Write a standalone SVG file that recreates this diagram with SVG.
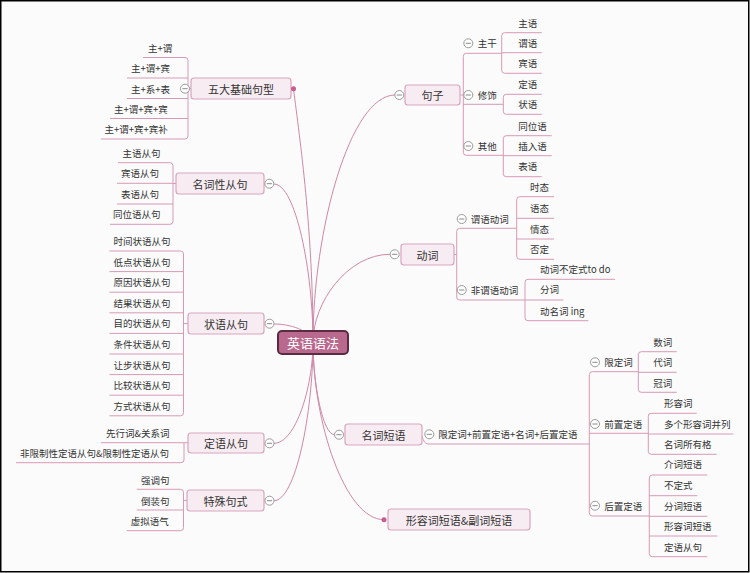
<svg xmlns="http://www.w3.org/2000/svg" xmlns:xlink="http://www.w3.org/1999/xlink" width="750" height="573" viewBox="0 0 750 573">
<style>
text{font-family:"Noto Sans CJK SC","Noto Sans",sans-serif;fill:#333;dominant-baseline:central}
.t{font-size:9.5px}
.m{font-size:11px;text-anchor:middle}
.r{font-size:13px;text-anchor:middle;fill:#fff}
.ln{fill:none;stroke:#d79ab6;stroke-width:1}
.cv{fill:none;stroke:#cf88a8;stroke-width:1}
.nd{fill:#f7ecf2;stroke:#d9a5be;stroke-width:1.2}
.dot{fill:#c65d8c}
.col circle{fill:#fff;stroke:#9a9a9a;stroke-width:1}
.col line{stroke:#8a8a8a;stroke-width:1}
</style>
<defs>
<g id="col" class="col"><circle r="4.5"/><line x1="-2.6" y1="0" x2="2.6" y2="0"/></g>
</defs>
<rect x="0.75" y="0.75" width="748" height="571" fill="#fbfbfb" stroke="#000" stroke-width="1.5"/>

<g id="connectors">
<path class="cv" d="M313,342 C313,230 300,140 293.5,89"/>
<path class="cv" d="M313,342 C313,271 295.5,184 274,184"/>
<path class="cv" d="M313,342 C313,334 295.5,324 274,324"/>
<path class="cv" d="M313,342 C313,387.5 295.5,443.3 274,443.3"/>
<path class="cv" d="M313,342 C313,413.4 295.5,500.7 274,500.7"/>
<path class="cv" d="M313,342 C313,231 350,95 395,95"/>
<path class="cv" d="M313,342 C313,302.3 347.7,254.3 390,254.3"/>
<path class="cv" d="M313,342 C313,383.5 322.7,434.7 334.5,434.7"/>
<path class="cv" d="M313,342 C313,422 345,519.7 384,519.7"/>

<path class="ln" d="M191,88.5 H188 M188,60.5 V136 M188,60.5 Q188,57.5 185,57.5 H143 M188,78 H127 M188,98.5 H127 M188,118.5 H110 M188,136 Q188,139 185,139 H101"/>
<path class="ln" d="M176,183.5 H173 M173,165.7 V221.3 M173,165.7 Q173,162.7 170,162.7 H118 M173,183.3 H117 M173,204 H117 M173,221.3 Q173,224.3 170,224.3 H110"/>
<path class="ln" d="M188,323.5 H183.5 M183.5,254 V412.8 M183.5,254 Q183.5,251 180.5,251 H109.5 M183.5,271.6 H109.5 M183.5,292.2 H109.5 M183.5,312.8 H109.5 M183.5,333.4 H109.5 M183.5,354 H109.5 M183.5,374.6 H109.5 M183.5,395.2 H109.5 M183.5,412.8 Q183.5,415.8 180.5,415.8 H109.5"/>
<path class="ln" d="M188,442.7 H101 M184,442.7 V459.7 Q184,462.7 181,462.7 H16"/>
<path class="ln" d="M187,500.5 H183.5 M183.5,492.3 V527.7 M183.5,492.3 Q183.5,489.3 180.5,489.3 H136.7 M183.5,510 H136.7 M183.5,527.7 Q183.5,530.7 180.5,530.7 H126.7"/>

<path class="ln" d="M460.3,95 H463.3 M463.3,56.3 V152.3 M463.3,56.3 Q463.3,53.3 466.3,53.3 H501.7 M463.3,104.3 H503.3 M463.3,152.3 Q463.3,155.3 466.3,155.3 H503.3"/>
<path class="ln" d="M501.7,35.7 V70.3 M501.7,35.7 Q501.7,32.7 504.7,32.7 H541.7 M501.7,52.7 H541.7 M501.7,70.3 Q501.7,73.3 504.7,73.3 H541.7"/>
<path class="ln" d="M503.3,97.3 V111.3 M503.3,97.3 Q503.3,94.3 506.3,94.3 H541.7 M503.3,111.3 Q503.3,114.3 506.3,114.3 H541.7"/>
<path class="ln" d="M503.3,138.7 V173.7 M503.3,138.7 Q503.3,135.7 506.3,135.7 H551.7 M503.3,155.7 H551.7 M503.3,173.7 Q503.3,176.7 506.3,176.7 H541.7"/>

<path class="ln" d="M454,254.5 H456.7 M456.7,231.3 V297 M456.7,231.3 Q456.7,228.3 459.7,228.3 H516.7 M456.7,297 Q456.7,300 459.7,300 H525"/>
<path class="ln" d="M516.7,199.7 V256.3 M516.7,199.7 Q516.7,196.7 519.7,196.7 H554 M516.7,218.3 H554 M516.7,239 H554 M516.7,256.3 Q516.7,259.3 519.7,259.3 H554"/>
<path class="ln" d="M525,282.3 V317.7 M525,282.3 Q525,279.3 528,279.3 H615 M525,300 H563.3 M525,317.7 Q525,320.7 528,320.7 H588.3"/>

<path class="ln" d="M422,436 Q424,444 428,444 H589.3"/>
<path class="ln" d="M589.3,374.7 V513 M589.3,374.7 Q589.3,371.7 592.3,371.7 H638.3 M589.3,433.3 H648.3 M589.3,513 Q589.3,516 592.3,516 H649.3"/>
<path class="ln" d="M638.3,354.7 V389.3 M638.3,354.7 Q638.3,351.7 641.3,351.7 H676.7 M638.3,372.3 H676.7 M638.3,389.3 Q638.3,392.3 641.3,392.3 H676.7"/>
<path class="ln" d="M648.3,416.3 V451.3 M648.3,416.3 Q648.3,413.3 651.3,413.3 H696.7 M648.3,434 H733.3 M648.3,451.3 Q648.3,454.3 651.3,454.3 H716.7"/>
<path class="ln" d="M649.3,478 V553.7 M649.3,478 Q649.3,475 652.3,475 H707.3 M649.3,495.7 H697.3 M649.3,516.3 H707.3 M649.3,536 H717.3 M649.3,553.7 Q649.3,556.7 652.3,556.7 H707.3"/>
</g>

<g id="root">
<rect x="278" y="331" width="70" height="23" rx="4" fill="#b9698e" stroke="#5b2b40" stroke-width="2"/>
<text class="r" x="313" y="342.5">英语语法</text>
</g>

<g id="n-wuda">
<rect class="nd" x="191" y="78" width="100" height="21" rx="3"/>
<text class="m" x="241" y="88.5">五大基础句型</text>
<circle class="dot" cx="293.5" cy="88.7" r="2.5"/>
<use xlink:href="#col" x="185" y="88.7"/>
<text class="t" x="148" y="47.5">主+谓</text>
<text class="t" x="131" y="68">主+谓+宾</text>
<text class="t" x="131" y="88.5">主+系+表</text>
<text class="t" x="114" y="108.5">主+谓+宾+宾</text>
<text class="t" x="104.5" y="129">主+谓+宾+宾补</text>
</g>

<g id="n-mingci">
<rect class="nd" x="176" y="173" width="88" height="21" rx="3"/>
<text class="m" x="220" y="183.5">名词性从句</text>
<use xlink:href="#col" x="269.3" y="183.7"/>
<text class="t" x="122.5" y="153">主语从句</text>
<text class="t" x="121" y="173.3">宾语从句</text>
<text class="t" x="121" y="193.8">表语从句</text>
<text class="t" x="113" y="214.3">同位语从句</text>
</g>

<g id="n-zhuangyu">
<rect class="nd" x="188" y="313" width="76" height="21" rx="3"/>
<text class="m" x="226" y="323.5">状语从句</text>
<use xlink:href="#col" x="269.5" y="323.7"/>
<text class="t" x="113.5" y="241">时间状语从句</text>
<text class="t" x="113.5" y="261.6">低点状语从句</text>
<text class="t" x="113.5" y="282.2">原因状语从句</text>
<text class="t" x="113.5" y="302.8">结果状语从句</text>
<text class="t" x="113.5" y="323.4">目的状语从句</text>
<text class="t" x="113.5" y="344">条件状语从句</text>
<text class="t" x="113.5" y="364.6">让步状语从句</text>
<text class="t" x="113.5" y="385.2">比较状语从句</text>
<text class="t" x="113.5" y="405.8">方式状语从句</text>
</g>

<g id="n-dingyu">
<rect class="nd" x="188" y="433" width="76" height="20" rx="3"/>
<text class="m" x="226" y="443">定语从句</text>
<use xlink:href="#col" x="269.5" y="443.3"/>
<text class="t" x="106" y="432.7">先行词&amp;关系词</text>
<text class="t" x="20" y="453">非限制性定语从句&amp;限制性定语从句</text>
</g>

<g id="n-teshu">
<rect class="nd" x="187" y="490" width="77" height="21" rx="3"/>
<text class="m" x="225.5" y="500.5">特殊句式</text>
<use xlink:href="#col" x="269.5" y="500.7"/>
<text class="t" x="141" y="480">强调句</text>
<text class="t" x="141" y="500.5">倒装句</text>
<text class="t" x="130.7" y="520.7">虚拟语气</text>
</g>

<g id="n-juzi">
<rect class="nd" x="405" y="85" width="55" height="20" rx="3"/>
<text class="m" x="432.5" y="95">句子</text>
<use xlink:href="#col" x="399.3" y="95"/>
<use xlink:href="#col" x="468.3" y="43.3"/>
<use xlink:href="#col" x="468.3" y="95"/>
<use xlink:href="#col" x="468.3" y="146"/>
<text class="t" x="477.7" y="43.3">主干</text>
<text class="t" x="477.7" y="95">修饰</text>
<text class="t" x="477.7" y="146">其他</text>
<text class="t" x="518.3" y="22.7">主语</text>
<text class="t" x="518.3" y="43.3">谓语</text>
<text class="t" x="518.3" y="63.3">宾语</text>
<text class="t" x="518.3" y="84">定语</text>
<text class="t" x="518.3" y="104.3">状语</text>
<text class="t" x="518.3" y="125.7">同位语</text>
<text class="t" x="518.3" y="145.7">插入语</text>
<text class="t" x="518.3" y="166">表语</text>
</g>

<g id="n-dongci">
<rect class="nd" x="401" y="244" width="53" height="21" rx="3"/>
<text class="m" x="427.5" y="254.5">动词</text>
<use xlink:href="#col" x="394.7" y="254.3"/>
<use xlink:href="#col" x="461.7" y="219"/>
<use xlink:href="#col" x="461.7" y="290"/>
<text class="t" x="470.7" y="219">谓语动词</text>
<text class="t" x="470.7" y="290">非谓语动词</text>
<text class="t" x="530" y="187.3">时态</text>
<text class="t" x="530" y="208.3">语态</text>
<text class="t" x="530" y="229.3">情态</text>
<text class="t" x="530" y="249.3">否定</text>
<text class="t" x="540" y="269.3">动词不定式to do</text>
<text class="t" x="540" y="289.3">分词</text>
<text class="t" x="540" y="310.7">动名词 ing</text>
</g>

<g id="n-mingciduanyu">
<rect class="nd" x="345" y="424" width="77" height="21" rx="3"/>
<text class="m" x="383.5" y="434.5">名词短语</text>
<use xlink:href="#col" x="339" y="434.7"/>
<use xlink:href="#col" x="429.3" y="434.3"/>
<text class="t" x="438.3" y="434.3">限定词+前置定语+名词+后置定语</text>
<use xlink:href="#col" x="595" y="362.3"/>
<use xlink:href="#col" x="595" y="424"/>
<use xlink:href="#col" x="595" y="505.7"/>
<text class="t" x="604.3" y="362.3">限定词</text>
<text class="t" x="604.3" y="424">前置定语</text>
<text class="t" x="604.3" y="505.7">后置定语</text>
<text class="t" x="653.3" y="341.7">数词</text>
<text class="t" x="653.3" y="362.3">代词</text>
<text class="t" x="653.3" y="382.7">冠词</text>
<text class="t" x="664" y="402.7">形容词</text>
<text class="t" x="664" y="424">多个形容词并列</text>
<text class="t" x="664" y="444">名词所有格</text>
<text class="t" x="664" y="464.3">介词短语</text>
<text class="t" x="664" y="485">不定式</text>
<text class="t" x="664" y="505.7">分词短语</text>
<text class="t" x="664" y="526">形容词短语</text>
<text class="t" x="664" y="546.7">定语从句</text>
</g>

<g id="n-xingrong">
<rect class="nd" x="388" y="509" width="142" height="21" rx="3"/>
<text class="m" x="459" y="519.5">形容词短语&amp;副词短语</text>
<circle class="dot" cx="384" cy="519.7" r="2.5"/>
</g>
</svg>
